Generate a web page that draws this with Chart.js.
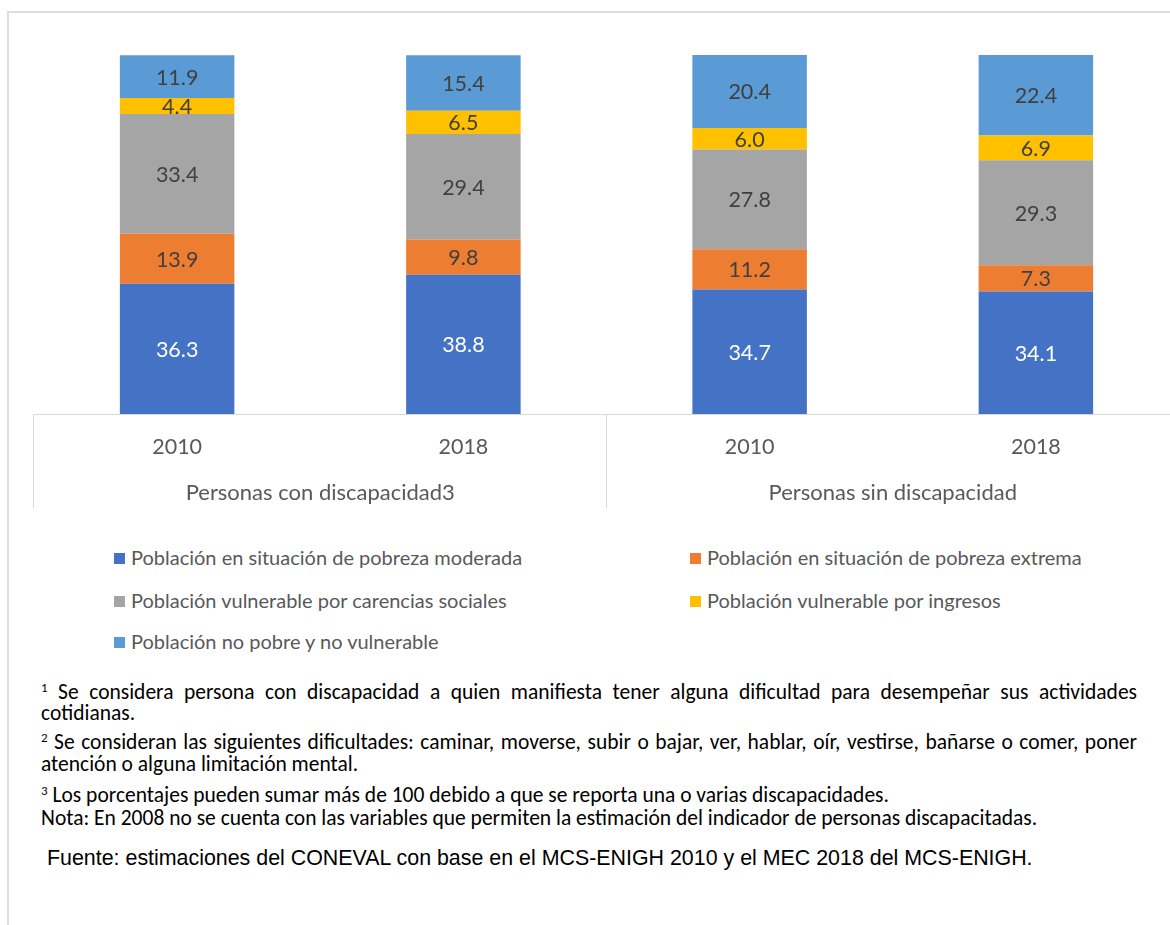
<!DOCTYPE html>
<html>
<head>
<meta charset="utf-8">
<script src="https://cdn.jsdelivr.net/npm/chart.js@4.4.1/dist/chart.umd.min.js"></script>
<style>
  html, body { margin:0; padding:0; background:#fff; }
  body { width:1170px; height:925px; overflow:hidden; position:relative; }
  #frame { position:absolute; left:7px; top:11px; width:1300px; height:1000px; border:2px solid #dedede; box-sizing:border-box; }
  #wrap { position:absolute; left:0; top:0; width:1200px; height:520px; }
  .leg { position:absolute; font-family:Lato, sans-serif; font-size:20px; color:#595959; white-space:nowrap; line-height:22px; }
  .leg i { display:inline-block; width:11px; height:11px; margin-right:6px; vertical-align:1px; }
  .fn { position:absolute; left:41px; font-family:Carlito, Lato, sans-serif; font-size:21.5px; color:#000; line-height:22px; white-space:nowrap; }
  .fn sup { font-size:13px; vertical-align:7px; line-height:0; }
  #src { position:absolute; left:47px; top:846px; font-family:"Liberation Sans", Arial, sans-serif; font-size:21.4px; color:#000; white-space:nowrap; }
</style>
</head>
<body>
<div id="frame"></div>
<div id="wrap"><canvas id="c" width="1200" height="520"></canvas></div>
<div id="legend"></div>

<div class="fn" data-w="1096" style="top:681px;"><sup>1</sup> Se considera persona con discapacidad a quien manifiesta tener alguna dificultad para desempeñar sus actividades</div>
<div class="fn" style="top:702px;">cotidianas.</div>
<div class="fn" data-w="1096" style="top:731px;"><sup>2</sup> Se consideran las siguientes dificultades: caminar, moverse, subir o bajar, ver, hablar, oír, vestirse, bañarse o comer, poner</div>
<div class="fn" style="top:753px;">atención o alguna limitación mental.</div>
<div class="fn" style="top:784px;"><sup>3</sup> Los porcentajes pueden sumar más de 100 debido a que se reporta una o varias discapacidades.</div>
<div class="fn" style="top:807px;">Nota: En 2008 no se cuenta con las variables que permiten la estimación del indicador de personas discapacitadas.</div>
<div id="src">Fuente: estimaciones del CONEVAL con base en el MCS-ENIGH 2010 y el MEC 2018 del MCS-ENIGH.</div>

<script>
// ---- data ----
const years = ['2010', '2018', '2010', '2018'];
const groups = ['Personas con discapacidad3', 'Personas sin discapacidad'];
const seriesNames = [
  'Población en situación de pobreza moderada',
  'Población en situación de pobreza extrema',
  'Población vulnerable por carencias sociales',
  'Población vulnerable por ingresos',
  'Población no pobre y no vulnerable'
];
const pobrezaModerada = [36.3, 38.8, 34.7, 34.1];
const pobrezaExtrema  = [13.9, 9.8, 11.2, 7.3];
const vulnCarencias   = [33.4, 29.4, 27.8, 29.3];
const vulnIngresos    = [4.4, 6.5, 6.0, 6.9];
const noPobre         = [11.9, 15.4, 20.4, 22.4];
const colors = ['#4472C4', '#ED7D31', '#A5A5A5', '#FFC000', '#5B9BD5'];
const labelColors = ['#FFFFFF', '#404040', '#404040', '#404040', '#404040'];

const seriesValues = [pobrezaModerada, pobrezaExtrema, vulnCarencias, vulnIngresos, noPobre];

// ---- legend (HTML) ----
const legendPos = [[114,546],[690,546],[114,589],[690,589],[114,630]];
const legendEl = document.getElementById('legend');
seriesNames.forEach((n, i) => {
  const d = document.createElement('div');
  d.className = 'leg';
  d.style.left = legendPos[i][0] + 'px';
  d.style.top = legendPos[i][1] + 'px';
  d.innerHTML = '<i style="background:' + colors[i] + '"></i>' + n;
  legendEl.appendChild(d);
});

// ---- justified footnote lines: fit to target width ----
document.querySelectorAll('.fn[data-w]').forEach(el => {
  const target = +el.dataset.w;
  const natural = el.getBoundingClientRect().width;
  const text = el.textContent;
  const spaces = (text.match(/ /g) || []).length;
  if (natural > target) {
    el.style.letterSpacing = ((target - natural) / text.length) + 'px';
  } else if (spaces > 0) {
    el.style.wordSpacing = ((target - natural) / spaces) + 'px';
  }
});

// ---- plugins ----
const segLabels = {
  id: 'segLabels',
  afterDatasetsDraw(chart) {
    const ctx = chart.ctx;
    ctx.save();
    ctx.font = '21.5px Lato, sans-serif';
    ctx.textAlign = 'center';
    ctx.textBaseline = 'middle';
    chart.data.datasets.forEach((ds, i) => {
      const meta = chart.getDatasetMeta(i);
      meta.data.forEach((bar, j) => {
        const p = bar.getProps(['x', 'y', 'base'], true);
        ctx.fillStyle = labelColors[i];
        ctx.fillText(ds.data[j].toFixed(1), p.x, (p.y + p.base) / 2 + 1);
      });
    });
    ctx.restore();
  }
};

const groupAxis = {
  id: 'groupAxis',
  afterDraw(chart) {
    const sx = chart.scales.x;
    const ctx = chart.ctx;
    const mid = (sx.getPixelForValue(1) + sx.getPixelForValue(2)) / 2;
    ctx.save();
    ctx.strokeStyle = '#d9d9d9';
    ctx.lineWidth = 1;
    [sx.left, mid, sx.right].forEach(px => {
      const xx = Math.round(px) - 0.5;
      ctx.beginPath();
      ctx.moveTo(xx, sx.top);
      ctx.lineTo(xx, sx.bottom);
      ctx.stroke();
    });
    ctx.font = '22px Lato, sans-serif';
    ctx.fillStyle = '#595959';
    ctx.textAlign = 'center';
    ctx.textBaseline = 'middle';
    ctx.fillText(groups[0], (sx.left + mid) / 2, 493);
    ctx.fillText(groups[1], (mid + sx.right) / 2, 493);
    ctx.restore();
  }
};

new Chart(document.getElementById('c'), {
  type: 'bar',
  data: {
    labels: years,
    datasets: seriesNames.map((n, i) => ({
      label: n,
      data: seriesValues[i],
      backgroundColor: colors[i],
      borderWidth: 0,
      categoryPercentage: 1.0,
      barPercentage: 0.4
    }))
  },
  options: {
    responsive: false,
    animation: false,
    layout: { padding: { left: 34, right: 21, top: 55, bottom: 12 } },
    plugins: { legend: { display: false }, tooltip: { enabled: false } },
    scales: {
      x: {
        stacked: true,
        grid: { display: false, drawTicks: false },
        border: { display: true, color: '#d9d9d9', width: 1 },
        ticks: { color: '#595959', font: { family: 'Lato, sans-serif', size: 21.5 }, padding: 20, maxRotation: 0 },
        afterFit(scale) { scale.height = 94; }
      },
      y: {
        stacked: true,
        display: false,
        min: 0,
        max: 100
      }
    }
  },
  plugins: [segLabels, groupAxis]
});
</script>
</body>
</html>
